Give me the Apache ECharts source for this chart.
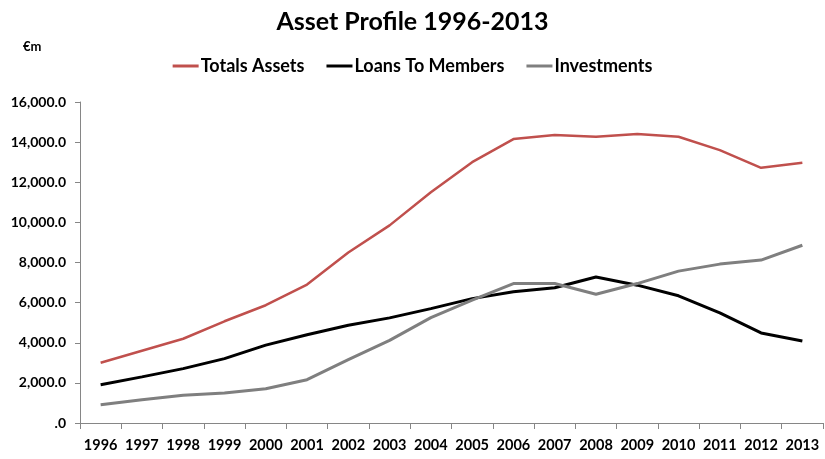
<!DOCTYPE html>
<html>
<head>
<meta charset="utf-8">
<script src="https://cdn.jsdelivr.net/npm/echarts@6/dist/echarts.min.js"></script>
<style>
  html, body { margin: 0; padding: 0; background: #fff; }
  #chart { width: 825px; height: 459px; }
</style>
</head>
<body>
<div id="chart"></div>
<script>
var years = ['1996', '1997', '1998', '1999', '2000', '2001', '2002', '2003', '2004',
    '2005', '2006', '2007', '2008', '2009', '2010', '2011', '2012', '2013'];
var totalAssets = [3000, 3600, 4200, 5070, 5870, 6900, 8500, 9850, 11500,
    13000, 14150, 14350, 14270, 14400, 14270, 13600, 12720, 12970];
var loansToMembers = [1910, 2300, 2710, 3210, 3880, 4400, 4870, 5240, 5700,
    6200, 6540, 6740, 7280, 6870, 6340, 5490, 4490, 4090];
var investments = [910, 1160, 1380, 1500, 1710, 2160, 3160, 4120, 5250,
    6120, 6950, 6950, 6420, 6950, 7570, 7920, 8120, 8860];

var font = 'Lato, "Liberation Sans", sans-serif';

function fmt(v) {
    if (v === 0) return '.0';
    return v.toLocaleString('en-US', {minimumFractionDigits: 1, maximumFractionDigits: 1});
}

var myChart = echarts.init(document.getElementById('chart'));
var option = {
    animation: false,
    title: {
        text: 'Asset Profile 1996-2013',
        left: 'center',
        top: 4,
        textStyle: {fontFamily: font, fontSize: 25, fontWeight: 'bold', color: '#000'}
    },
    graphic: [{
        type: 'text',
        left: 23,
        top: 40,
        style: {text: '€m', font: 'bold 13px ' + font, fill: '#000'}
    }],
    legend: {
        top: 52,
        left: 'center',
        itemWidth: 26,
        itemHeight: 3,
        itemGap: 22,
        icon: 'rect',
        textStyle: {fontFamily: font, fontSize: 18, fontWeight: 'bold', color: '#000', padding: [0, 0, 0, -3]},
        data: ['Totals Assets', 'Loans To Members', 'Investments']
    },
    grid: {left: 80, right: 2, top: 102, bottom: 36},
    xAxis: {
        type: 'category',
        data: years,
        boundaryGap: true,
        axisLine: {lineStyle: {color: '#868686', width: 1}},
        axisTick: {show: true, length: 6, inside: false, interval: 0, lineStyle: {color: '#868686'}},
        axisLabel: {fontFamily: font, fontSize: 14.5, fontWeight: 'bold', color: '#000', margin: 15, interval: 0}
    },
    yAxis: {
        type: 'value',
        min: 0,
        max: 16000,
        interval: 2000,
        axisLine: {show: true, lineStyle: {color: '#868686', width: 1}},
        axisTick: {show: true, length: 5, lineStyle: {color: '#868686'}},
        splitLine: {show: false},
        axisLabel: {fontFamily: font, fontSize: 14, fontWeight: 'bold', color: '#000', margin: 14, formatter: fmt}
    },
    series: [{
        name: 'Totals Assets',
        type: 'line',
        data: totalAssets,
        symbol: 'none',
        color: '#C0504D',
        lineStyle: {width: 2.5, color: '#C0504D'}
    }, {
        name: 'Loans To Members',
        type: 'line',
        data: loansToMembers,
        symbol: 'none',
        color: '#000000',
        lineStyle: {width: 3, color: '#000000'}
    }, {
        name: 'Investments',
        type: 'line',
        data: investments,
        symbol: 'none',
        color: '#7F7F7F',
        lineStyle: {width: 3, color: '#7F7F7F'}
    }]
};
myChart.setOption(option);
</script>
</body>
</html>
